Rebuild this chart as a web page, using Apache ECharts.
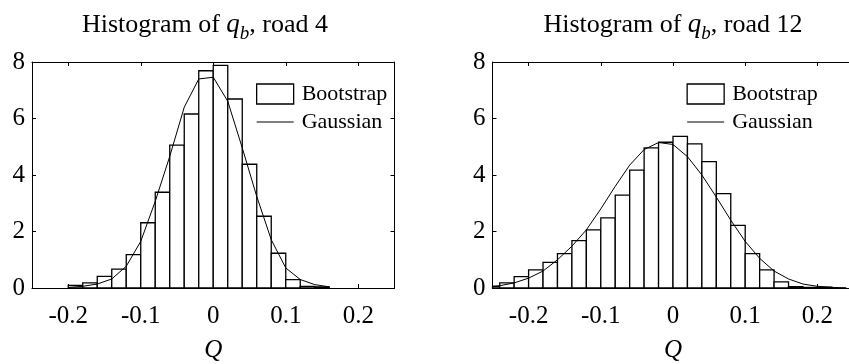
<!DOCTYPE html>
<html>
<head>
<meta charset="utf-8">
<script src="https://cdn.jsdelivr.net/npm/echarts@6/dist/echarts.min.js"></script>
<style>
html, body { margin: 0; padding: 0; background: #fff; }
#chart { width: 849px; height: 364px; }
</style>
</head>
<body>
<div id="chart"></div>
<script>
// bin width of both histograms
const binWidth = 0.02;

// road 4: left edges of the bins and bar heights
const road4Bins = [-0.2, -0.18, -0.16, -0.14, -0.12, -0.1, -0.08, -0.06, -0.04, -0.02,
    0, 0.02, 0.04, 0.06, 0.08, 0.1, 0.12, 0.14];
const road4Heights = [0.09, 0.18, 0.41, 0.67, 1.18, 2.31, 3.39, 5.06, 6.16, 7.69,
    7.88, 6.69, 4.38, 2.54, 1.23, 0.30, 0.06, 0.04];
// road 4: gaussian fit
const road4GaussX = [-0.2, -0.18, -0.16, -0.14, -0.12, -0.1, -0.08, -0.06, -0.04, -0.02,
    0, 0.02, 0.04, 0.06, 0.08, 0.1, 0.12, 0.14, 0.16];
const road4GaussY = [0.02, 0.06, 0.14, 0.32, 0.77, 1.65, 3.07, 4.66, 6.40, 7.40,
    7.46, 6.61, 4.96, 3.24, 1.71, 0.71, 0.30, 0.12, 0.04];

// road 12
const road12Bins = [-0.26, -0.24, -0.22, -0.2, -0.18, -0.16, -0.14, -0.12, -0.1, -0.08, -0.06, -0.04,
    -0.02, 0, 0.02, 0.04, 0.06, 0.08, 0.1, 0.12, 0.14, 0.16, 0.18, 0.2];
const road12Heights = [0.06, 0.18, 0.40, 0.64, 0.91, 1.22, 1.68, 2.06, 2.48, 3.29, 4.17, 4.96,
    5.16, 5.37, 5.10, 4.47, 3.34, 2.22, 1.22, 0.64, 0.22, 0.05, 0.02, 0.03];
const road12GaussX = [-0.26, -0.24, -0.22, -0.2, -0.18, -0.16, -0.14, -0.12, -0.1, -0.08, -0.06, -0.04, -0.02,
    0, 0.02, 0.04, 0.06, 0.08, 0.1, 0.12, 0.14, 0.16, 0.18, 0.2, 0.22, 0.24];
const road12GaussY = [0.04, 0.08, 0.18, 0.35, 0.60, 1.00, 1.48, 2.06, 2.80, 3.60, 4.35, 4.90, 5.15,
    5.08, 4.65, 4.00, 3.22, 2.40, 1.65, 1.05, 0.60, 0.32, 0.14, 0.06, 0.02, 0.01];

const xTicks = [-0.2, -0.1, 0, 0.1, 0.2];
const titles = ['Histogram of {i|q}{s|b}, road 4', 'Histogram of {i|q}{s|b}, road 12'];

const FONT = '"Liberation Serif", "Times New Roman", serif';

function zip(a, b) {
    return a.map((v, i) => [v, b[i]]);
}

function renderBin(params, api) {
    const x0 = api.value(0);
    const h = api.value(1);
    const p0 = api.coord([x0, h]);
    const p1 = api.coord([x0 + binWidth, 0]);
    const rect = echarts.graphic.clipRectByRect({
        x: p0[0], y: p0[1], width: p1[0] - p0[0], height: p1[1] - p0[1]
    }, params.coordSys);
    if (!rect) return;
    return {
        type: 'rect',
        shape: rect,
        style: { fill: '#fff', stroke: '#000', lineWidth: 1.3 }
    };
}

// the right panel runs a little past the canvas edge, as in the original figure
const grids = [
    { left: 32, top: 62, width: 362.5, height: 226 },
    { left: 492.5, top: 62, width: 361, height: 226 }
];

const frameLine = { show: true, onZero: false, lineStyle: { color: '#000', width: 1 } };
const tickStyle = { color: '#000', width: 1 };

const xAxes = [];
const yAxes = [];
grids.forEach((g, i) => {
    xAxes.push({
        type: 'value', gridIndex: i, min: -0.25, max: 0.25, position: 'bottom',
        name: 'Q', nameLocation: 'middle', nameGap: 50,
        nameTextStyle: { fontFamily: FONT, fontSize: 25, fontStyle: 'italic', color: '#000' },
        axisLine: frameLine,
        axisTick: { inside: true, length: 4, customValues: xTicks, lineStyle: tickStyle },
        axisLabel: { customValues: xTicks, margin: 16, fontFamily: FONT, fontSize: 25, color: '#000' },
        splitLine: { show: false }
    });
    xAxes.push({
        type: 'value', gridIndex: i, min: -0.25, max: 0.25, position: 'top',
        axisLine: frameLine,
        axisTick: { inside: true, length: 4, customValues: xTicks, lineStyle: tickStyle },
        axisLabel: { show: false },
        splitLine: { show: false }
    });
    yAxes.push({
        type: 'value', gridIndex: i, min: 0, max: 8, interval: 2, position: 'left',
        axisLine: frameLine,
        axisTick: { show: true, inside: true, length: 4, lineStyle: tickStyle },
        axisLabel: { margin: 7, fontFamily: FONT, fontSize: 25, color: '#000' },
        splitLine: { show: false }
    });
    yAxes.push({
        type: 'value', gridIndex: i, min: 0, max: 8, interval: 2, position: 'right',
        axisLine: frameLine,
        axisTick: { show: true, inside: true, length: 4, lineStyle: tickStyle },
        axisLabel: { show: false },
        splitLine: { show: false }
    });
});

const legendData = [
    { name: 'Bootstrap', icon: 'rect', itemStyle: { color: '#fff', borderColor: '#000', borderWidth: 1.3 } },
    { name: 'Gaussian', icon: 'path://M0,0 L37,0 L37,1 L0,1 Z', itemStyle: { color: '#000', borderWidth: 0 },
        lineStyle: { color: '#000', width: 1 } }
];

function makeLegend(left) {
    return {
        orient: 'vertical', left: left, top: 78, itemWidth: 37, itemHeight: 20, itemGap: 6,
        data: legendData, selectedMode: false,
        textStyle: { fontFamily: FONT, fontSize: 22, color: '#000', padding: [0, 0, 0, 3] }
    };
}

function titleText(x, text) {
    return {
        type: 'text', x: x, y: 25,
        style: {
            text: text, align: 'center', verticalAlign: 'middle',
            fontFamily: FONT, fontSize: 26, fill: '#000',
            rich: {
                i: { fontFamily: FONT, fontSize: 27, fontStyle: 'italic' },
                s: { fontFamily: FONT, fontSize: 19, fontStyle: 'italic', padding: [17, 0, 0, 0] }
            }
        }
    };
}

const chart = echarts.init(document.getElementById('chart'));
chart.setOption({
    animation: false,
    backgroundColor: '#fff',
    grid: grids.map(g => Object.assign({ show: false, outerBoundsMode: 'none' }, g)),
    xAxis: xAxes,
    yAxis: yAxes,
    legend: [makeLegend(251), makeLegend(681.5)],
    graphic: [titleText(205, titles[0]), titleText(673, titles[1])],
    series: [
        {
            name: 'Bootstrap', type: 'custom', xAxisIndex: 0, yAxisIndex: 0,
            renderItem: renderBin, data: zip(road4Bins, road4Heights), z: 2
        },
        {
            name: 'Gaussian', type: 'line', xAxisIndex: 0, yAxisIndex: 0, symbol: 'none',
            itemStyle: { color: '#000' },
            lineStyle: { color: '#000', width: 1 }, data: zip(road4GaussX, road4GaussY), z: 3
        },
        {
            name: 'Bootstrap', type: 'custom', xAxisIndex: 2, yAxisIndex: 2,
            renderItem: renderBin, data: zip(road12Bins, road12Heights), z: 2
        },
        {
            name: 'Gaussian', type: 'line', xAxisIndex: 2, yAxisIndex: 2, symbol: 'none',
            itemStyle: { color: '#000' },
            lineStyle: { color: '#000', width: 1 }, data: zip(road12GaussX, road12GaussY), z: 3
        }
    ]
});
</script>
</body>
</html>
